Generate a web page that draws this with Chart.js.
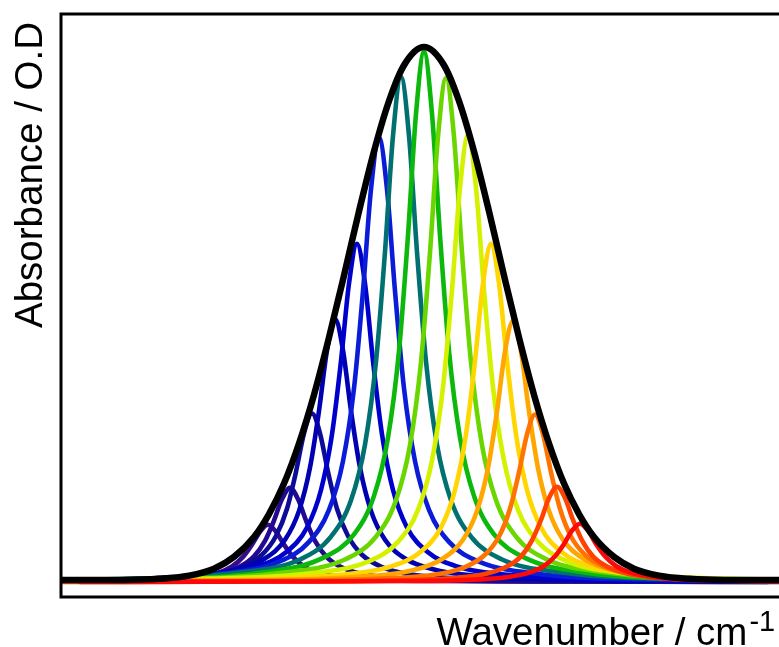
<!DOCTYPE html>
<html>
<head>
<meta charset="utf-8">
<script src="https://cdn.jsdelivr.net/npm/chart.js@4/dist/chart.umd.min.js"></script>
<style>
html,body{margin:0;padding:0;background:#fff;overflow:hidden;}
canvas{display:block;}
</style>
</head>
<body>
<canvas id="c" width="779" height="647"></canvas>
<script>
// ---- Text ----
const X_TITLE = "Wavenumber / cm";
const X_TITLE_SUP = "-1";
const Y_TITLE = "Absorbance / O.D";

// ---- Component bands: centre positions (arbitrary wavenumber units) ----
const PEAK_CENTERS = [207, 229, 251, 274, 296, 318, 340, 363, 385, 407, 430, 452, 474, 496, 519];
// sample offsets from each band centre
const PEAK_OFFSETS = [-500, -300, -160, -100, -70, -50, -36, -25, -16, -8, 0, 8, 16, 25, 36, 50, 70, 100, 160, 300, 500];

// absorbance of each band at the offsets above
const BAND_01 = [0.000,0.001,0.002,0.005,0.010,0.017,0.029,0.047,0.070,0.094,0.107,0.094,0.070,0.047,0.029,0.017,0.010,0.005,0.002,0.001,0.000];
const BAND_02 = [0.000,0.001,0.003,0.008,0.016,0.029,0.048,0.077,0.115,0.155,0.176,0.155,0.115,0.077,0.048,0.029,0.016,0.008,0.003,0.001,0.000];
const BAND_03 = [0.001,0.002,0.006,0.014,0.028,0.051,0.086,0.137,0.206,0.278,0.315,0.278,0.206,0.137,0.086,0.051,0.028,0.014,0.006,0.002,0.001];
const BAND_04 = [0.001,0.003,0.009,0.023,0.044,0.079,0.133,0.214,0.320,0.433,0.492,0.433,0.320,0.214,0.133,0.079,0.044,0.023,0.009,0.003,0.001];
const BAND_05 = [0.001,0.003,0.012,0.029,0.057,0.102,0.172,0.276,0.413,0.558,0.632,0.558,0.413,0.276,0.172,0.102,0.057,0.029,0.012,0.003,0.001];
const BAND_06 = [0.002,0.004,0.015,0.038,0.075,0.135,0.226,0.362,0.544,0.734,0.831,0.734,0.544,0.362,0.226,0.135,0.075,0.038,0.015,0.004,0.002];
const BAND_07 = [0.002,0.005,0.018,0.043,0.085,0.153,0.257,0.412,0.617,0.834,0.944,0.834,0.617,0.412,0.257,0.153,0.085,0.043,0.018,0.005,0.002];
const BAND_08 = [0.002,0.005,0.018,0.046,0.089,0.161,0.270,0.432,0.648,0.875,0.991,0.875,0.648,0.432,0.270,0.161,0.089,0.046,0.018,0.005,0.002];
const BAND_09 = [0.002,0.005,0.018,0.043,0.085,0.153,0.256,0.411,0.616,0.832,0.942,0.832,0.616,0.411,0.256,0.153,0.085,0.043,0.018,0.005,0.002];
const BAND_10 = [0.002,0.005,0.016,0.038,0.075,0.135,0.227,0.364,0.546,0.737,0.835,0.737,0.546,0.364,0.227,0.135,0.075,0.038,0.016,0.005,0.002];
const BAND_11 = [0.001,0.003,0.012,0.029,0.057,0.102,0.172,0.276,0.413,0.558,0.632,0.558,0.413,0.276,0.172,0.102,0.057,0.029,0.012,0.003,0.001];
const BAND_12 = [0.001,0.003,0.009,0.022,0.044,0.079,0.133,0.213,0.319,0.431,0.488,0.431,0.319,0.213,0.133,0.079,0.044,0.022,0.009,0.003,0.001];
const BAND_13 = [0.001,0.002,0.006,0.014,0.028,0.051,0.085,0.137,0.205,0.276,0.313,0.276,0.205,0.137,0.085,0.051,0.028,0.014,0.006,0.002,0.001];
const BAND_14 = [0.000,0.001,0.003,0.008,0.016,0.029,0.048,0.078,0.116,0.157,0.178,0.157,0.116,0.078,0.048,0.029,0.016,0.008,0.003,0.001,0.000];
const BAND_15 = [0.000,0.001,0.002,0.005,0.010,0.018,0.030,0.048,0.071,0.096,0.109,0.096,0.071,0.048,0.030,0.018,0.010,0.005,0.002,0.001,0.000];
const BANDS = [BAND_01,BAND_02,BAND_03,BAND_04,BAND_05,BAND_06,BAND_07,BAND_08,BAND_09,BAND_10,BAND_11,BAND_12,BAND_13,BAND_14,BAND_15];

const BAND_COLORS = ["#360b8c","#22098f","#0c0c98","#0000b2","#0000cc","#0a1cd8","#007070","#0cb80c","#6ad600","#d4f200","#ffd600","#ffa600","#ff7400","#ff4200","#ff0808"];

// ---- Overall (envelope) band ----
const ENV_X = [0,63,98,128,153,173,193,208,223,238,253,268,283,298,313,328,343,363,383,398,413,428,443,458,473,488,503,518,533,553,573,598,628,663,740];
const ENV_Y = [0.004,0.004,0.006,0.012,0.025,0.047,0.084,0.127,0.184,0.259,0.350,0.457,0.573,0.693,0.805,0.899,0.966,1.000,0.966,0.899,0.805,0.693,0.573,0.457,0.350,0.259,0.184,0.127,0.084,0.047,0.025,0.012,0.006,0.004,0.004];

// ---- Build datasets ----
const datasets = [];
datasets.push({
  label: "Envelope",
  data: ENV_X.map((x, i) => ({x: x, y: ENV_Y[i]})),
  borderColor: "#000000",
  borderWidth: 6.5,
  order: 0,
  clip: 0
});
BANDS.forEach((band, k) => {
  datasets.push({
    label: "Band " + (k + 1),
    data: PEAK_OFFSETS.map((d, i) => ({x: PEAK_CENTERS[k] + d, y: band[i]})),
    borderColor: BAND_COLORS[k],
    borderWidth: 4.6,
    order: BANDS.length - k,
    clip: 0
  });
});

const framePlugin = {
  id: "frameAndTitles",
  afterDraw(chart) {
    const ctx = chart.ctx;
    const a = chart.chartArea;
    ctx.save();
    ctx.strokeStyle = "#000";
    ctx.lineWidth = 3;
    ctx.lineJoin = "miter";
    ctx.beginPath();
    ctx.moveTo(a.right + 10, a.top);
    ctx.lineTo(a.left, a.top);
    ctx.lineTo(a.left, a.bottom);
    ctx.lineTo(a.right + 10, a.bottom);
    ctx.stroke();

    ctx.fillStyle = "#000";
    ctx.textBaseline = "alphabetic";
    ctx.textAlign = "left";
    // x title
    ctx.font = "38.5px 'Liberation Sans', Arial, sans-serif";
    const x0 = 436.5, yb = 645;
    ctx.fillText(X_TITLE, x0, yb);
    const w = ctx.measureText(X_TITLE).width;
    ctx.font = "29px 'Liberation Sans', Arial, sans-serif";
    ctx.fillText(X_TITLE_SUP, x0 + w + 2, 631);
    // y title
    ctx.font = "38.5px 'Liberation Sans', Arial, sans-serif";
    ctx.translate(42, 328);
    ctx.rotate(-Math.PI / 2);
    ctx.fillText(Y_TITLE, 0, 0);
    ctx.restore();
  }
};

new Chart(document.getElementById("c"), {
  type: "line",
  data: { datasets: datasets },
  options: {
    responsive: false,
    animation: false,
    devicePixelRatio: 1,
    layout: { padding: { left: 61, top: 14, right: 0, bottom: 50 } },
    plugins: { legend: { display: false }, tooltip: { enabled: false } },
    elements: {
      point: { radius: 0 },
      line: { cubicInterpolationMode: "monotone", borderCapStyle: "round", borderJoinStyle: "round" }
    },
    scales: {
      x: { type: "linear", min: 0, max: 718, display: false },
      y: { type: "linear", min: -0.028, max: 1.0617, display: false }
    }
  },
  plugins: [framePlugin]
});
</script>
</body>
</html>
